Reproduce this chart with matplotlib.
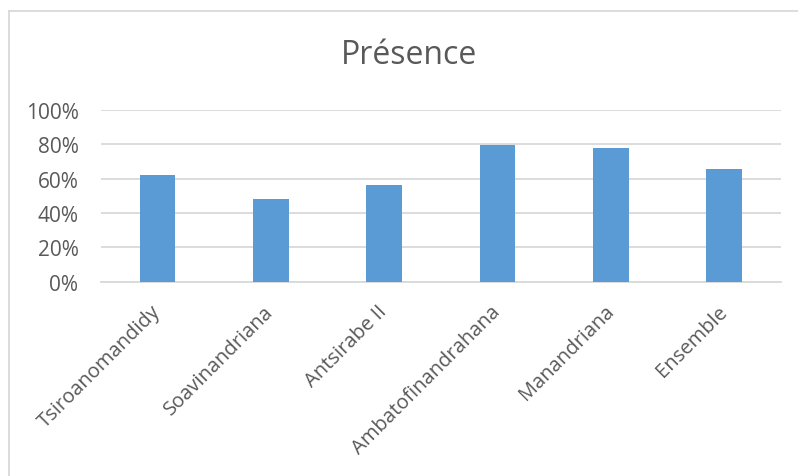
import matplotlib
matplotlib.use("Agg")
import matplotlib.pyplot as plt
from matplotlib.lines import Line2D
from matplotlib.ticker import FuncFormatter
from matplotlib.transforms import ScaledTranslation

categories = ["Tsiroanomandidy", "Soavinandriana", "Antsirabe II",
              "Ambatofinandrahana", "Manandriana", "Ensemble"]
presence = [0.62, 0.48, 0.56, 0.796, 0.776, 0.657]
y_ticks = [0.0, 0.2, 0.4, 0.6, 0.8, 1.0]

plt.rcParams['font.family'] = ['Open Sans', 'DejaVu Sans']

W, H = 798, 477
fig = plt.figure(figsize=(W / 100, H / 100), dpi=100)
ax = fig.add_axes([100.7 / W, 1 - 282.7 / H, (781 - 100.7) / W, (282.7 - 110.7) / H])

x = range(len(categories))
ax.bar(x, presence, width=0.315, color="#5B9BD5", zorder=3)

ax.set_xlim(-0.5, len(categories) - 0.5)
ax.set_ylim(0, 1.0)
ax.set_yticks(y_ticks)
ax.yaxis.set_major_formatter(FuncFormatter(lambda v, p: f"{v*100:.0f}%"))
ax.grid(axis="y", color="#D9D9D9", linewidth=1.3, zorder=0)
ax.set_axisbelow(True)
for s in ["top", "right", "left"]:
    ax.spines[s].set_visible(False)
ax.spines["bottom"].set_color("#D9D9D9")
ax.spines["bottom"].set_linewidth(1.3)
ax.tick_params(axis="y", length=0, pad=16, labelsize=15, labelcolor="#595959")
ax.tick_params(axis="x", length=0, pad=14, labelsize=14.5, labelcolor="#595959")
ax.set_xticks(list(x))
labels = ax.set_xticklabels(categories, rotation=45, ha="right", va="top",
                            rotation_mode="default")
off = ScaledTranslation(7 / 100, 0, fig.dpi_scale_trans)
for lab in labels:
    lab.set_transform(lab.get_transform() + off)

fig.text(409 / W, 1 - 55 / H, "Présence", ha="center",
         va="center", fontsize=23, color="#595959")

# chart border (left and top visible)
fig.add_artist(Line2D([8.5 / W, 8.5 / W], [0, 1 - 11.5 / H], transform=fig.transFigure,
                      color="#D9D9D9", linewidth=1.3))
fig.add_artist(Line2D([8.5 / W, 1], [1 - 11.5 / H, 1 - 11.5 / H], transform=fig.transFigure,
                      color="#D9D9D9", linewidth=1.3))

fig.savefig("out.png", dpi=100)
